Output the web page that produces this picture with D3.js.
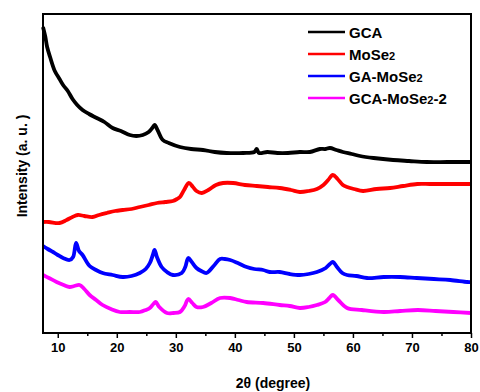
<!DOCTYPE html>
<html><head><meta charset="utf-8">
<script src="https://cdn.jsdelivr.net/npm/d3@7"></script>
<style>body{margin:0;background:#fff}svg{display:block}text{font-family:"Liberation Sans",Arial,sans-serif;font-weight:bold}</style>
</head><body><svg id="c" width="480" height="392"></svg>
<script>
// 2θ (degree) and intensity (a.u., arbitrary offset units)
const gcaX = [7.5,7.9,8.2,8.7,9.5,10.3,10.9,11.7,12.5,13.3,14.2,15.3,16.6,17.9,19.3,20.7,22.2,23.3,24.4,25.4,26.0,26.4,26.9,27.8,28.8,30.7,32.6,34.6,36.6,38.6,41.4,43.3,43.7,44.1,45.5,47.2,49.0,51.0,52.7,54.4,55.3,56.1,57.2,58.3,59.8,61.2,63.5,66.8,69.5,72.5,76.0,79.3,80];
const gcaY = [306,296,286,276,262,254,248,242,234,228,223,219,215,211,205,202,198,197,198,201,205,208,203,193,190,186,184,183,181,180,180,181,184,180,181,180,180,181,181,184,184,185,183,181,179,177,175,173,172,171,171,171,171];
const moX = [7.5,8.5,10.3,11.5,12.5,13.4,14.5,15.9,17.0,18.3,19.7,21.0,22.5,23.9,25.4,26.8,28.2,29.5,30.2,30.7,31.4,32.2,32.9,33.5,34.4,35.5,36.8,38.0,39.7,41.7,43.7,45.6,47.6,49.5,51.0,52.5,53.9,55.0,55.8,56.6,57.4,58.3,59.0,60.2,61.7,64.0,66.3,68.5,70.9,73.0,74.8,77.5,80];
const moY = [111,111,110,113,116,118,117,116,118,120,122,123,124,126,128,130,131,132,134,136,143,150,146,142,140,143,148,150,150,148,147,146,145,143,141,142,144,148,153,158,154,148,146,144,142,144,145,147,149,149,149,149,149];
const gaX = [7.5,8.3,9.2,10.0,10.9,12.0,12.6,13.1,13.6,14.2,15.4,16.5,17.6,19.3,21.0,22.5,23.9,24.9,25.6,26.1,26.4,26.8,27.6,28.5,29.5,31.0,31.6,32.1,32.7,33.5,34.3,35.2,36.4,37.5,38.3,39.2,40.5,42.0,43.3,44.8,45.9,47.6,49.3,51.0,52.5,53.9,55.4,56.1,56.6,57.3,58.2,59.0,60.6,62.4,65.2,68.0,70.8,73.7,76.5,79.4,80];
const gaY = [87,84,81,78,75,73,76,90,82,78,67,63,60,58,56,57,60,64,70,78,83,76,66,61,58,60,66,75,71,65,62,60,67,74,74,73,70,66,64,63,61,61,59,58,59,61,65,69,71,66,60,58,57,55,56,56,55,54,53,51,51];
const gcmX = [7.5,8.5,9.8,11.0,12.0,12.8,13.7,14.5,15.4,16.5,17.6,19.0,20.5,22.2,23.9,24.9,25.6,26.2,26.6,27.2,28.5,29.6,30.7,31.5,32.1,32.8,33.5,34.6,36.0,37.5,39.2,40.6,42.0,44.8,47.6,49.3,51.0,52.5,53.9,55.3,56.0,56.6,57.5,59.0,61.5,65.2,68.0,71.0,74.0,77.0,80];
const gcmY = [58,55,51,48,46,47,48,44,38,33,28,24,21,21,21,23,25,29,31,26,20,20,21,27,34,30,26,26,30,35,35,33,31,30,28,27,25,26,28,31,35,38,33,25,23,21,22,23,22,21,20];

const series = [
  {name:"GCA", x:gcaX, y:gcaY, color:"#000000"},
  {name:"MoSe2", x:moX, y:moY, color:"#ff0000"},
  {name:"GA-MoSe2", x:gaX, y:gaY, color:"#0000ff"},
  {name:"GCA-MoSe2-2", x:gcmX, y:gcmY, color:"#ff00ff"}
];
const legendLabels = [["GCA",""],["MoSe","2"],["GA-MoSe","2"],["GCA-MoSe","2","-2"]];
const majorTicks = [10,20,30,40,50,60,70,80];
const minorTicks = [15,25,35,45,55,65,75];

const svg = d3.select("#c");
const L=43, R=471, T=14, B=333;
const x = d3.scaleLinear().domain([7.5,80]).range([L,R]);
const y = d3.scaleLinear().domain([0,319]).range([B,T]);

const line = d3.line().x(d=>x(d[0])).y(d=>y(d[1])).curve(d3.curveCatmullRom.alpha(0.5));
series.forEach(s=>{
  const pts = s.x.map((v,i)=>[v,s.y[i]]);
  svg.append("path").datum(pts).attr("d",line)
    .attr("fill","none").attr("stroke",s.color).attr("stroke-width",3.8)
    .attr("stroke-linejoin","round");
});

// axis
const ax = svg.append("g").attr("transform",`translate(0,${B})`)
  .call(d3.axisBottom(x).tickValues(majorTicks).tickSize(5).tickSizeOuter(0).tickPadding(5));
ax.select(".domain").remove();
ax.selectAll("line").attr("stroke","#000").attr("stroke-width",1.5);
ax.selectAll("text").attr("font-size",13).attr("fill","#000").attr("font-weight","bold")
  .attr("font-family","Liberation Sans, Arial, sans-serif");
const axm = svg.append("g").attr("transform",`translate(0,${B})`)
  .call(d3.axisBottom(x).tickValues(minorTicks).tickSize(3).tickFormat(""));
axm.select(".domain").remove();
axm.selectAll("line").attr("stroke","#000").attr("stroke-width",1.5);

svg.append("rect").attr("x",L).attr("y",T).attr("width",R-L).attr("height",B-T)
  .attr("fill","none").attr("stroke","#000").attr("stroke-width",2);

svg.append("text").attr("x",273).attr("y",388).attr("text-anchor","middle")
  .attr("font-size",14).attr("fill","#000").text("2θ (degree)");
svg.append("text").attr("transform","translate(27,166) rotate(-90)").attr("text-anchor","middle")
  .attr("font-size",14).attr("fill","#000").text("Intensity (a. u. )");

// legend
const lg = svg.append("g");
series.forEach((s,i)=>{
  const yy = 32 + i*22;
  lg.append("line").attr("x1",308).attr("x2",345).attr("y1",yy).attr("y2",yy)
    .attr("stroke",s.color).attr("stroke-width",2.5);
  const t = lg.append("text").attr("x",349).attr("y",yy+5.5).attr("font-size",15).attr("fill","#000");
  const parts = legendLabels[i];
  t.append("tspan").text(parts[0]);
  if(parts[1]) t.append("tspan").attr("font-size",11).text(parts[1]);
  if(parts[2]) t.append("tspan").text(parts[2]);
});
</script></body></html>
